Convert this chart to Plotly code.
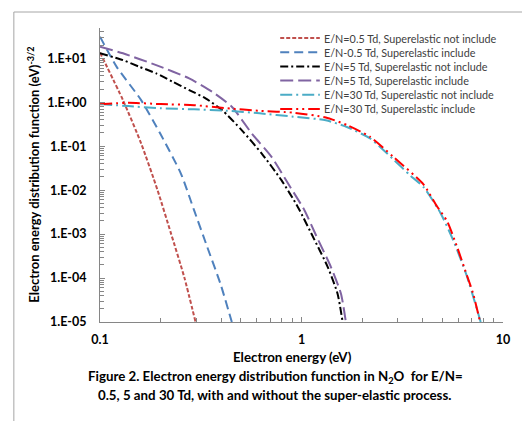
import plotly.graph_objects as go

# ---------------- data ----------------
series_names = [
    "E/N=0.5 Td, Superelastic not include",
    "E/N-0.5 Td, Superelastic include",
    "E/N=5 Td, Superelastic not include",
    "E/N=5 Td, Superelastic include",
    "E/N=30 Td, Superelastic not include",
    "E/N=30 Td, Superelastic include",
]
series_colors = ["#C0504D", "#4F81BD", "#000000", "#8064A2", "#4BACC6", "#FF0000"]
series_dashes = ["4px,2px", "9px,5px", "8px,3px,2px,3px", "13px,5px",
                 "12px,4px,2px,4px", "12px,4px,2px,4px,2px,4px"]

en05_no_x = [0.1, 0.13, 0.16, 0.193, 0.225, 0.262, 0.298]
en05_no_y = [13.5, 1.12, 0.116, 0.0100, 1.04e-3, 1.04e-4, 1.0e-5]

en05_se_x = [0.1, 0.121, 0.160, 0.199, 0.252, 0.293, 0.340, 0.396, 0.451]
en05_se_y = [31, 6.4, 1.12, 0.194, 0.0239, 3.5e-3, 5.2e-4, 7.4e-5, 1.0e-5]

en5_no_x = [0.1, 0.130, 0.157, 0.190, 0.229, 0.277, 0.334, 0.404, 0.506, 0.635,
            0.795, 0.96, 1.16, 1.35, 1.51, 1.60]
en5_no_y = [13.0, 9.1, 6.4, 4.55, 2.94, 1.9, 1.23, 0.66, 0.23, 0.068,
            0.0169, 4.1e-3, 7.4e-4, 1.78e-4, 4.4e-5, 1.0e-5]

en5_se_x = [0.1, 0.130, 0.190, 0.277, 0.36, 0.451, 0.566, 0.71, 0.858, 1.034,
            1.19, 1.40, 1.57, 1.66]
en5_se_y = [18.4, 13.0, 7.0, 3.5, 1.74, 0.79, 0.196, 0.057, 0.0141, 3.5e-3,
            8.7e-4, 1.78e-4, 4.4e-5, 1.0e-5]

en30_no_x = [0.1, 0.138, 0.20, 0.293, 0.426, 0.62, 0.91, 1.32, 1.69, 2.19,
             2.86, 3.45, 4.03, 4.9, 5.65, 6.6, 7.75]
en30_no_y = [0.91, 0.82, 0.73, 0.69, 0.64, 0.56, 0.47, 0.39, 0.27, 0.15,
             0.05, 0.022, 0.0118, 3.0e-3, 7.4e-4, 1.15e-4, 1.0e-5]

en30_se_x = [0.1, 0.138, 0.20, 0.293, 0.426, 0.62, 0.91, 1.32, 1.69, 2.19,
             2.86, 4.03, 4.7, 5.27, 5.9, 6.6, 7.1, 7.7]
en30_se_y = [0.90, 0.97, 0.91, 0.86, 0.73, 0.64, 0.58, 0.45, 0.30, 0.163,
             0.057, 0.0135, 4.3e-3, 2.0e-3, 5.3e-4, 1.2e-4, 4.5e-5, 1.0e-5]

series_x = [en05_no_x, en05_se_x, en5_no_x, en5_se_x, en30_no_x, en30_se_x]
series_y = [en05_no_y, en05_se_y, en5_no_y, en5_se_y, en30_no_y, en30_se_y]

y_tickvals = [1e1, 1e0, 1e-1, 1e-2, 1e-3, 1e-4, 1e-5]
y_ticktext = ["1.E+01", "1.E+00", "1.E-01", "1.E-02", "1.E-03", "1.E-04", "1.E-05"]
x_tickvals = [0.1, 1, 10]
x_ticktext = ["0.1", "1", "10"]

# ---------------- layout geometry ----------------
W, H = 522, 421
L, R, T, B = 100, 15, 28, 99
PW, PH = W - L - R, H - T - B


def px2paper_x(px):
    return (px - L) / PW


def px2paper_y(py):
    return (H - B - py) / PH


FONT = "Lato"
AX_COLOR = "#868686"

fig = go.Figure()
for name, xs, ys, col, dash in zip(series_names, series_x, series_y,
                                    series_colors, series_dashes):
    fig.add_trace(go.Scatter(
        x=xs, y=ys, mode="lines", name=name, showlegend=False,
        line=dict(color=col, width=2, dash=dash, shape="spline", smoothing=0.6),
    ))

shapes = []
annotations = []

# outer light frame
shapes.append(dict(type="rect", xref="paper", yref="paper",
                   x0=px2paper_x(13), x1=px2paper_x(540),
                   y0=px2paper_y(440), y1=px2paper_y(12),
                   line=dict(color="#A6A6A6", width=1), layer="below"))

# custom legend
for i, (name, col, dash) in enumerate(zip(series_names, series_colors, series_dashes)):
    py = 38 + i * 14.2
    shapes.append(dict(type="line", xref="paper", yref="paper",
                       x0=px2paper_x(282), x1=px2paper_x(322),
                       y0=px2paper_y(py), y1=px2paper_y(py),
                       line=dict(color=col, width=2, dash=dash)))
    annotations.append(dict(xref="paper", yref="paper", x=px2paper_x(324),
                            y=px2paper_y(py), xanchor="left", yanchor="middle",
                            text=name, showarrow=False,
                            font=dict(family=FONT, size=10.8, color="#404040")))

# axis titles and caption
annotations.append(dict(xref="paper", yref="paper", x=px2paper_x(32), y=0.5,
                        xanchor="center", yanchor="middle", textangle=-90,
                        text="Electron energy distribution function (eV)<sup>-3/2</sup>",
                        showarrow=False,
                        font=dict(family=FONT, size=13, color="#000000", weight="bold")))
annotations.append(dict(xref="paper", yref="paper", x=px2paper_x(294),
                        y=px2paper_y(357), xanchor="center", yanchor="middle",
                        text="Electron energy (eV)", showarrow=False,
                        font=dict(family=FONT, size=13.3, color="#000000", weight="bold")))
annotations.append(dict(xref="paper", yref="paper", x=px2paper_x(277),
                        y=px2paper_y(377), xanchor="center", yanchor="middle",
                        text="Figure 2. Electron energy distribution function in N<sub>2</sub>O  for E/N=",
                        showarrow=False,
                        font=dict(family=FONT, size=13.3, color="#000000", weight="bold")))
annotations.append(dict(xref="paper", yref="paper", x=px2paper_x(276),
                        y=px2paper_y(395), xanchor="center", yanchor="middle",
                        text="0.5, 5 and 30 Td, with and without the super-elastic process.",
                        showarrow=False,
                        font=dict(family=FONT, size=13.3, color="#000000", weight="bold")))

fig.update_layout(
    width=W, height=H,
    margin=dict(l=L, r=R, t=T, b=B),
    paper_bgcolor="white", plot_bgcolor="white",
    showlegend=False,
    shapes=shapes, annotations=annotations,
    xaxis=dict(type="log", range=[-1, 1], showgrid=False, zeroline=False,
               showline=True, linecolor=AX_COLOR, linewidth=1,
               ticks="inside", ticklen=5, tickcolor=AX_COLOR,
               tickmode="array", tickvals=x_tickvals, ticktext=x_ticktext,
               ticklabelstandoff=6,
               tickfont=dict(family=FONT, size=12.5, color="#000000", weight="bold"),
               minor=dict(ticks="inside", ticklen=4, tickcolor=AX_COLOR,
                          dtick="D1", showgrid=False)),
    yaxis=dict(type="log", range=[-5, 1.69], showgrid=False, zeroline=False,
               showline=True, linecolor=AX_COLOR, linewidth=1,
               ticks="inside", ticklen=5, tickcolor=AX_COLOR,
               tickmode="array", tickvals=y_tickvals, ticktext=y_ticktext,
               ticklabelstandoff=10,
               tickfont=dict(family=FONT, size=12.5, color="#000000", weight="bold"),
               minor=dict(ticks="inside", ticklen=4, tickcolor=AX_COLOR,
                          dtick="D1", showgrid=False)),
)

fig.write_html("out.html")
